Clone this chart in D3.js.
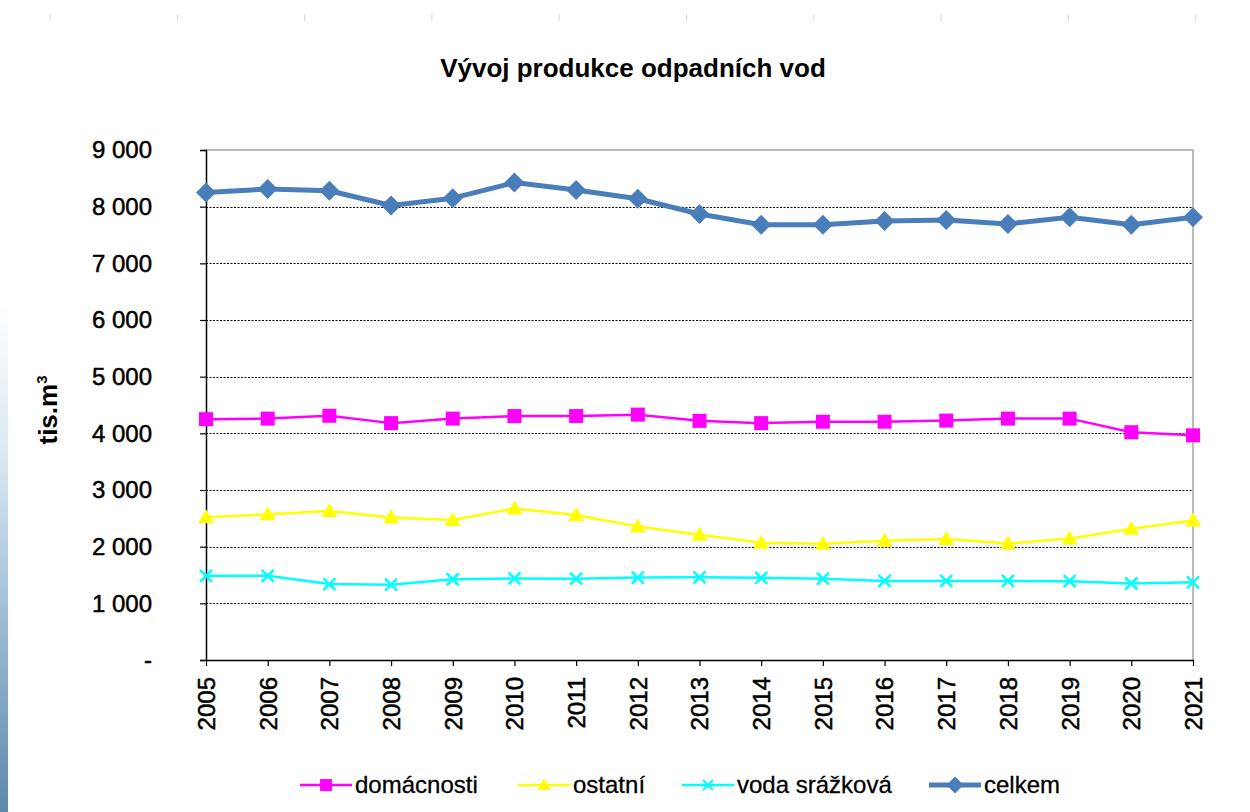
<!DOCTYPE html>
<html>
<head>
<meta charset="utf-8">
<script src="https://cdn.jsdelivr.net/npm/d3@7"></script>
<style>
  body { margin: 0; background: #fff; }
  svg { display: block; font-family: "Liberation Sans", Arial, sans-serif; }
</style>
</head>
<body>
<svg id="chart" width="1250" height="812"></svg>
<script>
// data
var years = ['2005','2006','2007','2008','2009','2010','2011','2012','2013','2014','2015','2016','2017','2018','2019','2020','2021'];
var domacnosti = [4250, 4260, 4310, 4180, 4260, 4305, 4305, 4330, 4220, 4180, 4205, 4205, 4225, 4260, 4260, 4020, 3965];
var ostatni = [2520, 2570, 2630, 2515, 2470, 2675, 2560, 2355, 2210, 2070, 2050, 2105, 2135, 2055, 2145, 2315, 2460];
var vodaSrazkova = [1485, 1485, 1340, 1330, 1425, 1440, 1435, 1455, 1460, 1450, 1435, 1395, 1395, 1395, 1390, 1350, 1370];
var celkem = [8250, 8310, 8280, 8020, 8150, 8425, 8295, 8140, 7870, 7680, 7680, 7745, 7765, 7695, 7815, 7680, 7815];
var yTicks = [0, 1000, 2000, 3000, 4000, 5000, 6000, 7000, 8000, 9000];

var series = [
  { name: 'domácnosti', values: domacnosti, color: '#ff00ff', width: 2.5, marker: 'square' },
  { name: 'ostatní', values: ostatni, color: '#ffff00', width: 2.5, marker: 'triangle' },
  { name: 'voda srážková', values: vodaSrazkova, color: '#00ffff', width: 2.5, marker: 'cross' },
  { name: 'celkem', values: celkem, color: '#4a7ebb', width: 5, marker: 'diamond' }
];

var svg = d3.select('#chart');
var plotLeft = 206, plotRight = 1193, plotTop = 150, plotBottom = 660;
var font = '"Liberation Sans", Arial, sans-serif';

var x = d3.scalePoint().domain(years).range([plotLeft, plotRight]);
var y = d3.scaleLinear().domain([0, 9000]).range([plotBottom, plotTop]);

// blue photo strip on the far left
var defs = svg.append('defs');
var grad = defs.append('linearGradient').attr('id', 'strip')
  .attr('x1', 0).attr('y1', 0).attr('x2', 0).attr('y2', 1);
grad.append('stop').attr('offset', '0%').attr('stop-color', '#ffffff');
grad.append('stop').attr('offset', '30%').attr('stop-color', '#dce8f2');
grad.append('stop').attr('offset', '70%').attr('stop-color', '#8fb2cf');
grad.append('stop').attr('offset', '100%').attr('stop-color', '#5d88ad');
svg.append('rect').attr('x', 0).attr('y', 300).attr('width', 8).attr('height', 512)
  .attr('fill', 'url(#strip)');

// faint marks at the top of the slide
var slideMarks = d3.range(10);
svg.selectAll('.slide-mark').data(slideMarks).enter().append('line')
  .attr('x1', function(d) { return 50 + d * 127.3; })
  .attr('x2', function(d) { return 50 + d * 127.3; })
  .attr('y1', 14).attr('y2', 21)
  .attr('stroke', '#d9d9d9').attr('stroke-width', 1);

// title
svg.append('text')
  .attr('x', 633).attr('y', 77)
  .attr('text-anchor', 'middle')
  .attr('font-size', 26).attr('font-weight', 'bold')
  .text('Vývoj produkce odpadních vod');

// plot frame (top + right gray)
svg.append('path')
  .attr('d', 'M' + plotLeft + ',' + plotTop + 'H' + plotRight + 'V' + plotBottom)
  .attr('fill', 'none').attr('stroke', '#a6a6a6').attr('stroke-width', 1.5);

// dotted gridlines
svg.selectAll('.grid').data(yTicks.filter(function(d) { return d > 0 && d < 9000; }))
  .enter().append('line')
  .attr('x1', plotLeft).attr('x2', plotRight)
  .attr('y1', function(d) { return Math.round(y(d)) + 0.5; })
  .attr('y2', function(d) { return Math.round(y(d)) + 0.5; })
  .attr('stroke', '#000').attr('stroke-width', 1)
  .attr('stroke-dasharray', '2,1.5');

// y axis
var yAxis = svg.append('g').attr('transform', 'translate(' + plotLeft + ',0)')
  .call(d3.axisLeft(y).tickValues(yTicks).tickSize(6).tickPadding(48)
    .tickFormat(function(d) { return d === 0 ? '-' : d3.format(',')(d).replace(/,/g, ' '); }));
yAxis.select('.domain').attr('stroke', '#000').attr('stroke-width', 1.5);
yAxis.selectAll('.tick line').attr('stroke', '#000').attr('stroke-width', 1.2);
yAxis.selectAll('.tick text')
  .attr('font-size', 24).attr('fill', '#000').attr('font-family', font)
  .attr('stroke', '#000').attr('stroke-width', 0.5);

// x axis
var xAxis = svg.append('g').attr('transform', 'translate(0,' + plotBottom + ')')
  .call(d3.axisBottom(x).tickSize(6).tickSizeOuter(0));
xAxis.select('.domain').attr('stroke', '#000').attr('stroke-width', 1.5);
xAxis.selectAll('.tick line').attr('stroke', '#000').attr('stroke-width', 1.2);
xAxis.selectAll('.tick text')
  .attr('font-size', 24).attr('fill', '#000').attr('font-family', font)
  .attr('stroke', '#000').attr('stroke-width', 0.5)
  .attr('text-anchor', 'end')
  .attr('transform', 'rotate(-90)')
  .attr('x', -17).attr('y', 0).attr('dy', '0.35em');

// y title
svg.append('text')
  .attr('transform', 'translate(57,410) rotate(-90)')
  .attr('text-anchor', 'middle')
  .attr('font-size', 26).attr('font-weight', 'bold')
  .html('tis.m<tspan dy="-10" font-size="15">3</tspan>');

// marker shapes
function markerPath(type) {
  if (type === 'square') return 'M-7,-7H7V7H-7Z';
  if (type === 'triangle') return 'M0,-8L8,6H-8Z';
  if (type === 'diamond') return 'M0,-10L10,0L0,10L-10,0Z';
  return 'M-6,-6L6,6M-6,6L6,-6';
}
function drawMarker(g, type, color) {
  var p = g.append('path').attr('d', markerPath(type));
  if (type === 'cross') p.attr('fill', 'none').attr('stroke', color).attr('stroke-width', 2.5);
  else p.attr('fill', color);
  return p;
}

var line = d3.line()
  .x(function(d, i) { return x(years[i]); })
  .y(function(d) { return y(d); });

series.forEach(function(s) {
  var g = svg.append('g');
  g.append('path').datum(s.values)
    .attr('d', line)
    .attr('fill', 'none').attr('stroke', s.color).attr('stroke-width', s.width)
    .attr('stroke-linejoin', 'round');
  s.values.forEach(function(v, i) {
    var m = g.append('g').attr('transform', 'translate(' + x(years[i]) + ',' + y(v) + ')');
    drawMarker(m, s.marker, s.color);
  });
});

// legend
var legendX = [300, 518, 682, 929];
series.forEach(function(s, i) {
  var lg = svg.append('g').attr('transform', 'translate(' + legendX[i] + ',785)');
  lg.append('line').attr('x1', 0).attr('x2', 52).attr('y1', 0).attr('y2', 0)
    .attr('stroke', s.color).attr('stroke-width', s.width);
  var mk = lg.append('g').attr('transform', 'translate(26,0) scale(0.85)');
  drawMarker(mk, s.marker, s.color);
  lg.append('text').attr('x', 55).attr('y', 0).attr('dy', '0.35em')
    .attr('font-size', 24).attr('fill', '#000').attr('font-family', font)
    .attr('stroke', '#000').attr('stroke-width', 0.3)
    .text(s.name);
});
</script>
</body>
</html>
